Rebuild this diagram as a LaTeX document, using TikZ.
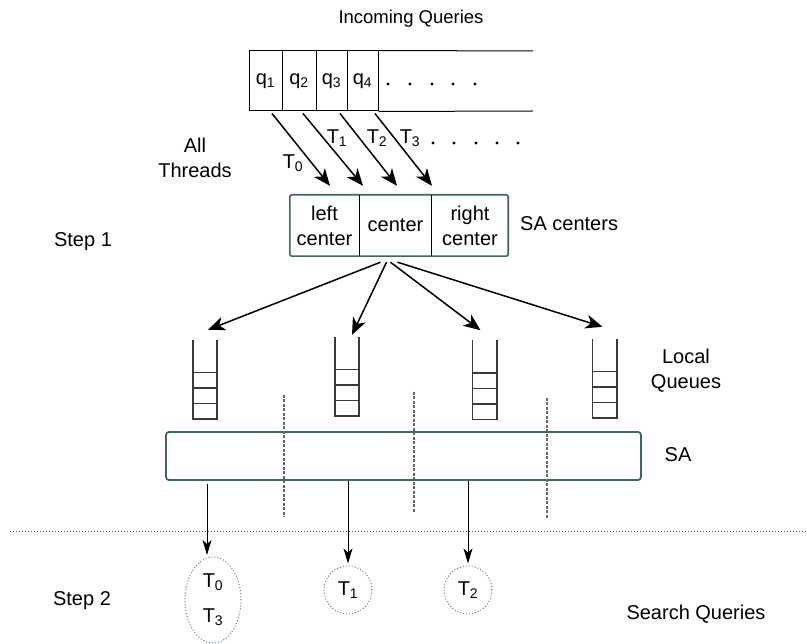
\documentclass[tikz,border=0pt]{standalone}
\usepackage{fontspec}
\setmainfont{Liberation Sans}
\usetikzlibrary{arrows.meta,shapes.geometric,calc}
\definecolor{boxc}{HTML}{3E6662}
\definecolor{dotc}{HTML}{5F7F7C}
\definecolor{qline}{HTML}{3A3A3A}
\begin{document}
\begin{tikzpicture}[x=1pt,y=-1pt,
  lbl/.style={font=\fontsize{20}{25}\selectfont, inner sep=0pt, align=center},
  cell/.style={draw=black, line width=1pt, minimum height=60pt, inner sep=0pt, font=\fontsize{20}{24}\selectfont},
  sacell/.style={minimum height=61pt, inner sep=0pt, font=\fontsize{20}{25}\selectfont, align=center},
  arr/.style={line width=1.5pt, -{Stealth[length=17pt,width=14pt,inset=5pt]}},
  sarr/.style={line width=1pt, -{Stealth[length=15pt,width=9pt,inset=4pt]}},
  qd/.style={line width=1.6pt, draw=qline},
  vdash/.style={line width=1.5pt, draw=gray!80!black, dash pattern=on 3pt off 1.5pt},
  bub/.style={draw=dotc, line width=1pt, dotted, inner sep=0pt, font=\fontsize{20}{25}\selectfont, align=center},
  lq/.style={minimum width=24pt, minimum height=79pt, inner sep=0pt}
]
\useasboundingbox (0,0) rectangle (807,644);

% Incoming queries
\node[lbl, font=\fontsize{18.5}{22}\selectfont] (inc) at (411,19) {Incoming Queries};
\node[cell, minimum width=33pt] (q1) at (265.5,81) {q\textsubscript{1}};
\node[cell, minimum width=34pt] (q2) at (299,81) {q\textsubscript{2}};
\node[cell, minimum width=31pt] (q3) at (331.5,81) {q\textsubscript{3}};
\node[cell, minimum width=31pt] (q4) at (362.5,81) {q\textsubscript{4}};
\coordinate (qendt) at (533,51);
\coordinate (qendb) at (533,111);
\draw[line width=1pt] (q4.north east) -- (qendt);
\draw[line width=1pt] (q4.south east) -- (qendb);
\foreach \x in {388,410,432,453,475} \fill (\x,84) circle (1.6pt);

% SA centers
\node[sacell, minimum width=69pt] (lc) at (324.5,225.5) {left\\center};
\node[sacell, minimum width=73pt] (cc) at (395.5,225.5) {center};
\node[sacell, minimum width=76pt] (rc) at (470,225.5) {right\\center};
\draw[boxc, line width=1.6pt, rounded corners=2pt] (lc.north west) rectangle (rc.south east);
\draw[line width=1pt] (lc.north east) -- (lc.south east);
\draw[line width=1pt] (rc.north west) -- (rc.south west);
\node[lbl, anchor=west] (sac) at (520,224) {SA centers};

% thread arrows
\draw[arr] ($(q1.south)+(6.5,2)$) -- ($(lc.north)+(5.5,-9)$);
\draw[arr] ($(q2.south)+(4,2)$) -- ($(cc.north)+(-32.5,-9)$);
\draw[arr] ($(q3.south)+(8.5,2)$) -- ($(cc.north)+(1.5,-9)$);
\draw[arr] ($(q4.south)+(12.5,2)$) -- ($(cc.north)+(36.5,-9)$);
\node[lbl] (t0) at (293,163) {T\textsubscript{0}};
\node[lbl] (t1) at (337,138) {T\textsubscript{1}};
\node[lbl] (t2) at (377,138) {T\textsubscript{2}};
\node[lbl] (t3) at (410,138) {T\textsubscript{3}};
\foreach \x in {433,454,476,497,518} \fill (\x,143) circle (1.6pt);
\node[lbl] (allt) at (195,158) {All\\Threads};
\node[lbl] (s1) at (83,242) {Step 1};

% local queues
\node[lq] (lq1) at (205,379.5) {};
\node[lq] (lq2) at (347,376.5) {};
\node[lq] (lq3) at (484.5,380) {};
\node[lq] (lq4) at (604.5,378.5) {};
\foreach \n in {lq1,lq2,lq3,lq4}{
  \draw[qd] (\n.north west) -- (\n.south west) -- (\n.south east) -- (\n.north east);
  \foreach \f in {0.41,0.605,0.8}
    \draw[qd] ($(\n.north west)!\f!(\n.south west)$) -- ($(\n.north east)!\f!(\n.south east)$);
}
\node[lbl] (lql) at (686,371) {Local\\Queues};

% center arrows
\draw[arr] ($(cc.south)+(-15,6)$) -- ($(lq1.north)+(3,-10)$);
\draw[arr] ($(cc.south)+(-9,6)$) -- ($(lq2.north)+(5,-2)$);
\draw[arr] ($(cc.south)+(-5,6)$) -- ($(lq3.north)+(-4,-10)$);
\draw[arr] ($(cc.south)+(2,6)$) -- ($(lq4.north)+(-2,-12)$);

% SA
\node[draw=boxc, line width=1.8pt, rounded corners=3pt, minimum width=475pt, minimum height=48pt, inner sep=0pt] (sa) at (403.5,456) {};
\node[lbl] (sal) at (678,455) {SA};

% dashed separators
\coordinate (d1a) at (284,395); \coordinate (d1b) at (284,517);
\coordinate (d2a) at (414,392); \coordinate (d2b) at (414,513);
\coordinate (d3a) at (547,398); \coordinate (d3b) at (547,518);
\draw[vdash] (d1a) -- (d1b);
\draw[vdash] (d2a) -- (d2b);
\draw[vdash] (d3a) -- (d3b);

% step line
\coordinate (hl) at (10,532); \coordinate (hr) at (807,532);
\draw[line width=1pt, gray!70!black, dotted] (hl) -- (hr);

% bubbles
\node[bub, ellipse, minimum width=56pt, minimum height=86pt] (e0) at (213,600) {T\textsubscript{0}\\[10pt]T\textsubscript{3}};
\node[bub, circle, minimum size=48pt] (c1) at (348,590) {T\textsubscript{1}};
\node[bub, circle, minimum size=48pt] (c2) at (468,590) {T\textsubscript{2}};
\coordinate (a0s) at (207,484);
\coordinate (a0e) at (207,555);
\draw[sarr] (a0s) -- (a0e);
\draw[sarr] (sa.south -| c1.north) -- ($(c1.north)+(0,-2)$);
\draw[sarr] (sa.south -| c2.north) -- ($(c2.north)+(0,-2)$);

\node[lbl] (s2) at (82,601) {Step 2};
\node[lbl] (sq) at (696,614) {Search Queries};
\end{tikzpicture}
\end{document}
